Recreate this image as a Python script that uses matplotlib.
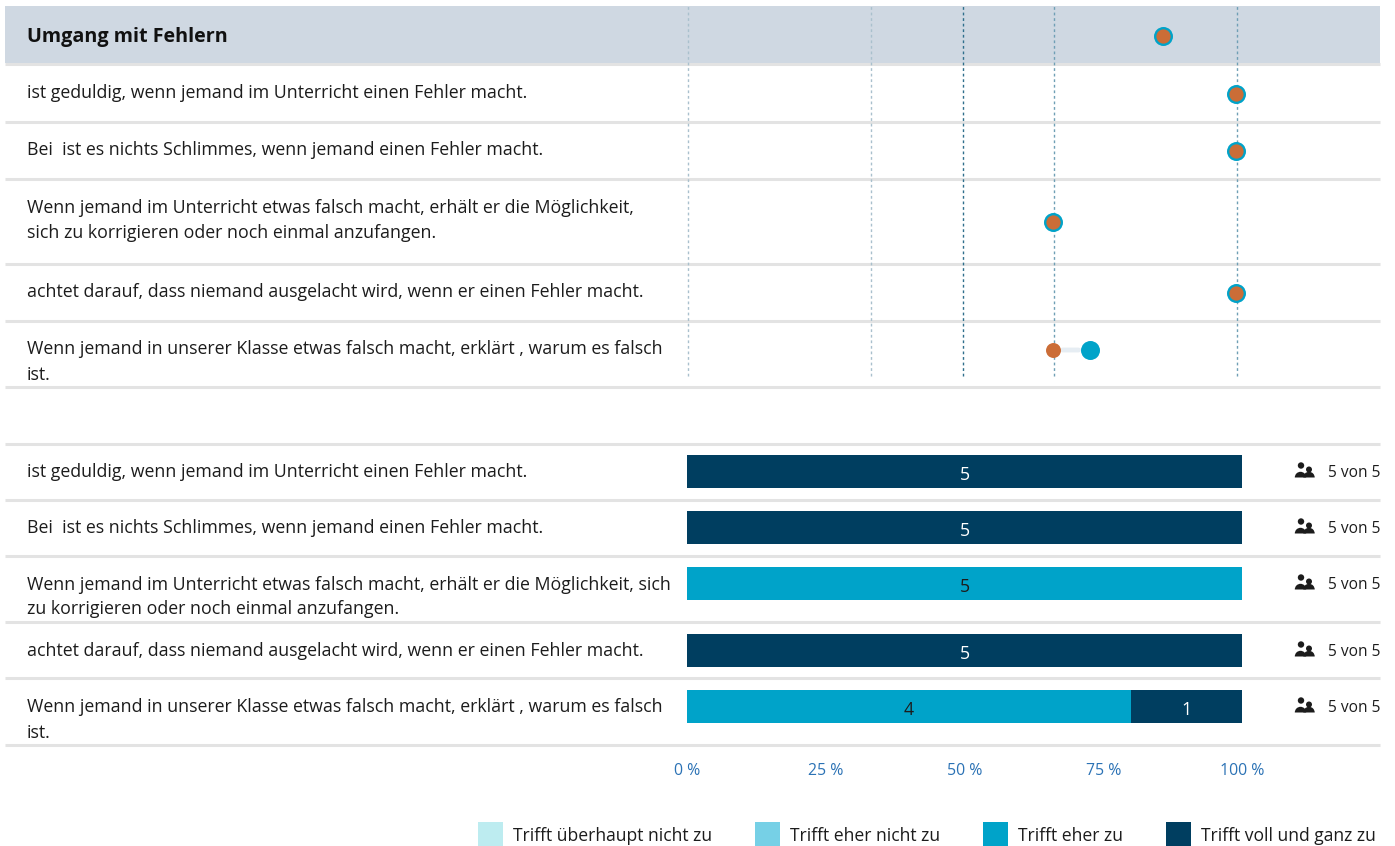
import matplotlib
matplotlib.use('Agg')
import matplotlib.pyplot as plt
from matplotlib.patches import Rectangle, Circle, Wedge
from matplotlib.transforms import offset_copy

plt.rcParams['font.family'] = ['Open Sans', 'DejaVu Sans']

# Daten
title = 'Umgang mit Fehlern'
labels_top = [
    'ist geduldig, wenn jemand im Unterricht einen Fehler macht.',
    'Bei  ist es nichts Schlimmes, wenn jemand einen Fehler macht.',
    'Wenn jemand im Unterricht etwas falsch macht, erhält er die Möglichkeit,\nsich zu korrigieren oder noch einmal anzufangen.',
    'achtet darauf, dass niemand ausgelacht wird, wenn er einen Fehler macht.',
    'Wenn jemand in unserer Klasse etwas falsch macht, erklärt , warum es falsch\nist.',
]
labels_bottom = [
    'ist geduldig, wenn jemand im Unterricht einen Fehler macht.',
    'Bei  ist es nichts Schlimmes, wenn jemand einen Fehler macht.',
    'Wenn jemand im Unterricht etwas falsch macht, erhält er die Möglichkeit, sich\nzu korrigieren oder noch einmal anzufangen.',
    'achtet darauf, dass niemand ausgelacht wird, wenn er einen Fehler macht.',
    'Wenn jemand in unserer Klasse etwas falsch macht, erklärt , warum es falsch\nist.',
]
header_orange = 3.6
header_blue = 3.6
orange = [4, 4, 3, 4, 3]
blue = [4, 4, 3, 4, 3.2]
grid_values = [1, 2, 2.5, 3, 4]
legend_labels = ['Trifft überhaupt nicht zu', 'Trifft eher nicht zu', 'Trifft eher zu', 'Trifft voll und ganz zu']
counts_1 = [0, 0, 0, 0, 0]
counts_2 = [0, 0, 0, 0, 0]
counts_3 = [0, 0, 5, 0, 4]
counts_4 = [5, 5, 0, 5, 1]
answered = ['5 von 5'] * 5
pct_ticks = [0, 25, 50, 75, 100]

# Layout in Pixeln
W, H = 1395, 846
colors = ['#bdecf0', '#76d0e6', '#00a3c9', '#003e60']
c_orange = '#cb6d37'
c_blue = '#00a3c9'
c_sep = '#e3e3e3'
c_text = '#1c1c1c'
FS = 12.75
LS = 1.5
y_header = 36
y_top = [94, 151, 222, 293, 350]
y_bottom = [472, 528, 584, 651, 707]
text_top = [93, 150, 220.5, 292, 362]
text_bottom = [472, 528, 597, 651, 720]
sep_top = [64.5, 122, 179, 264, 321, 387]
sep_bottom = [444, 500, 556, 622, 678, 745]
grid_col = ['#a9c0cd', '#a9c0cd', '#2f6f8c', '#6f9fb5', '#6f9fb5']
legend_x = [478, 755, 983, 1166]


def make_axes(x0, x1, y0, y1):
    ax = fig.add_axes([x0 / W, 1 - y1 / H, (x1 - x0) / W, (y1 - y0) / H])
    ax.set_ylim(y1, y0)
    ax.patch.set_alpha(0)
    for s in ax.spines.values():
        s.set_visible(False)
    return ax


def people(ax, x, y):
    # kleines Personen-Symbol
    ax.add_patch(Circle((x + 6, y - 5.5), 3.2, color='#1c1c1c', lw=0))
    ax.add_patch(Circle((x + 14, y - 1.5), 3, color='#1c1c1c', lw=0))
    ax.add_patch(Wedge((x + 5.5, y + 6.5), 5.7, 180, 360, color='#1c1c1c', lw=0))
    ax.add_patch(Wedge((x + 14, y + 6.5), 5.7, 180, 360, color='#1c1c1c', lw=0))


fig = plt.figure(figsize=(W / 100, H / 100), dpi=100)

# Hintergrund, Texte, Trennlinien
bg = make_axes(0, W, 0, H)
bg.set_xlim(0, W)
bg.axis('off')
bg.add_patch(Rectangle((5, 6), 1375, 57, color='#cfd8e2', lw=0))
for y in sep_top + sep_bottom:
    bg.plot([5, 1380], [y, y], color=c_sep, lw=2.2, solid_capstyle='butt')
bg.text(27, y_header + 1, title, fontsize=14.2, fontweight='bold', color='#111111', va='center')
for lab, y in zip(labels_top, text_top):
    bg.text(27, y, lab, fontsize=FS, color=c_text, va='center', linespacing=LS)
for lab, y in zip(labels_bottom, text_bottom):
    bg.text(27, y, lab, fontsize=FS, color=c_text, va='center', linespacing=LS)
for lab, y in zip(answered, y_bottom):
    people(bg, 1295, y - 1)
    bg.text(1380, y + 1, lab, fontsize=11.2, color=c_text, va='center', ha='right')
for x, lab, c in zip(legend_x, legend_labels, colors):
    bg.add_patch(Rectangle((x, 822), 25, 24, color=c, lw=0))
    bg.text(x + 35, 836, lab, fontsize=FS - 0.1, color=c_text, va='center')

# Punkte
ax1 = make_axes(688, 1237, 6, 376)
ax1.set_xlim(1, 4)
ax1.set_xticks([])
ax1.set_yticks([])
for v, c in zip(grid_values, grid_col):
    ax1.axvline(v, color=c, lw=1, ls=(0, (2, 2)), zorder=1, clip_on=False)
shifted = offset_copy(ax1.transData, fig=fig, x=-1, y=0, units='dots')
for yy, o, b in zip([y_header] + y_top, [header_orange] + orange, [header_blue] + blue):
    if o == b:
        ax1.scatter([b], [yy], s=187, color=c_blue, lw=0, zorder=3, clip_on=False, transform=shifted)
        ax1.scatter([o], [yy], s=105, color=c_orange, lw=0, zorder=4, clip_on=False, transform=shifted)
    else:
        ax1.annotate('', xy=(b, yy), xytext=(o, yy), zorder=2, xycoords=shifted, textcoords=shifted,
                     arrowprops=dict(arrowstyle='-', color='#e6edf3', lw=3.5, shrinkA=7, shrinkB=8))
        ax1.scatter([b], [yy], s=187, color=c_blue, lw=0, zorder=3, clip_on=False, transform=shifted)
        ax1.scatter([o], [yy], s=116, color=c_orange, lw=0, zorder=4, clip_on=False, transform=shifted)

# Balken
ax2 = make_axes(687, 1242, 444, 745)
ax2.set_xlim(0, 100)
ax2.set_yticks([])
ax2.set_xticks(pct_ticks)
ax2.set_xticklabels([f'{t} %' for t in pct_ticks], color='#2b72b5', fontsize=11.4)
ax2.tick_params(axis='x', length=0, pad=13)
bar_centre = [y - 0.5 for y in y_bottom]
left = [0] * 5
for series, c in zip([counts_1, counts_2, counts_3, counts_4], colors):
    widths = []
    for i, n in enumerate(series):
        total = counts_1[i] + counts_2[i] + counts_3[i] + counts_4[i]
        widths.append(n / total * 100)
    ax2.barh(bar_centre, widths, left=left, height=33, color=c, lw=0)
    for i, n in enumerate(series):
        if n > 0:
            tc = 'white' if c == colors[3] else c_text
            ax2.text(left[i] + widths[i] / 2, y_bottom[i] + 3, str(n), color=tc,
                     fontsize=FS, ha='center', va='center')
    left = [a + b for a, b in zip(left, widths)]

fig.savefig('out.png', dpi=100)
